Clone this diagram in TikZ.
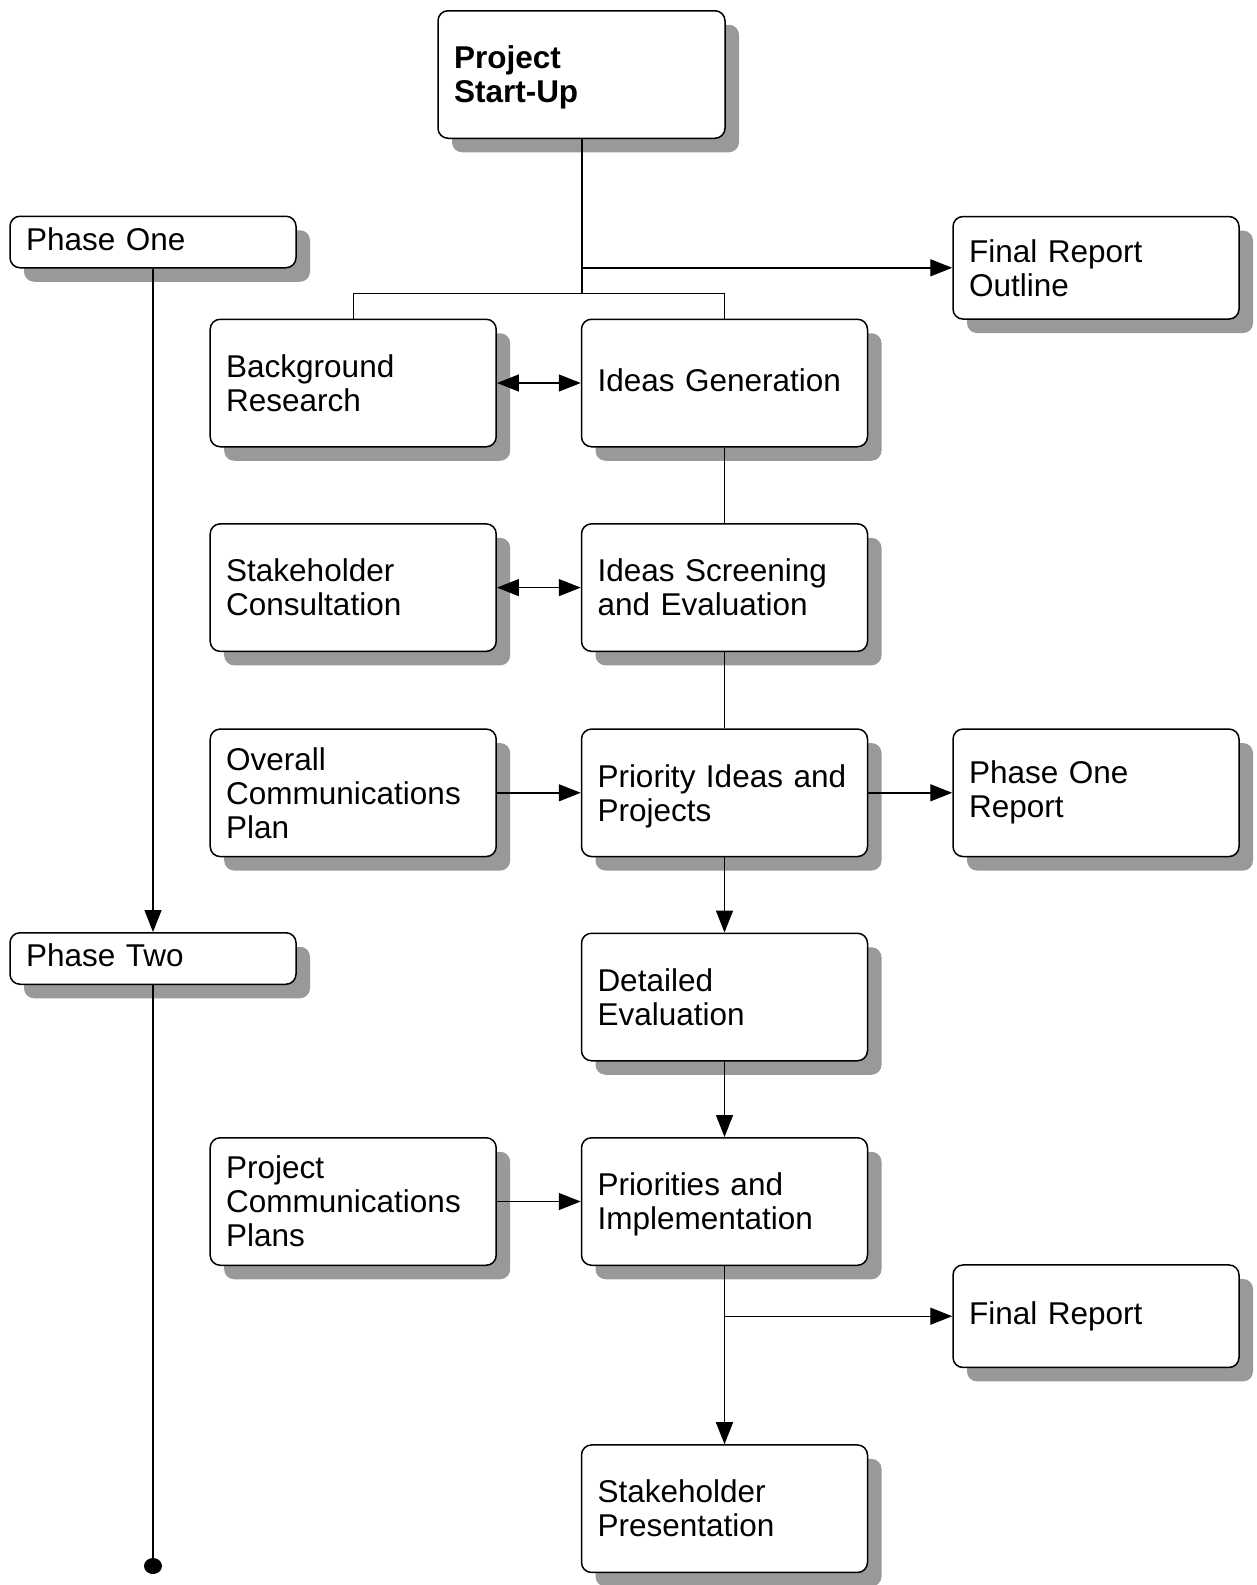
\documentclass[tikz,border=0pt]{standalone}
\usepackage{fontspec}
\setmainfont{Liberation Sans}
\usetikzlibrary{shadows,arrows.meta,shapes.geometric}
\begin{document}
\begin{tikzpicture}[x=1pt,y=-1pt,
  box/.style={draw, line width=1.5pt, fill=white, rounded corners=10pt,
    minimum width=286pt, minimum height=127.5pt, text width=254pt,
    inner xsep=16pt, inner ysep=0pt, align=left,
    font=\fontsize{31.5}{34}\selectfont,
    drop shadow={shadow xshift=14pt, shadow yshift=-14pt, fill=black!40, opacity=1}},
  oneline/.style={text depth=6.5pt},
  shortbox/.style={box, oneline, minimum height=51.5pt},
  midbox/.style={box, minimum height=102.5pt},
  conn/.style={line width=1.4pt},
  arr/.style={conn, -{Triangle[length=22pt,width=17pt]}},
  darr/.style={conn, {Triangle[length=22pt,width=17pt]}-{Triangle[length=22pt,width=17pt]}}
]
\useasboundingbox (0,0) rectangle (1257,1585);

\node[box, minimum width=287pt, text width=255pt, font=\fontsize{31.5}{34}\selectfont\bfseries] (start) at (581.5,74.5) {Project\\\smash{Start-Up}};
\node[shortbox] (p1) at (153,242) {Phase One};
\node[midbox] (fro) at (1096,267.8) {Final Report\\Outline};
\node[box] (bg) at (353.2,383) {Background\\Research};
\node[box, oneline] (ig) at (724.5,383) {Ideas Generation};
\node[box] (sc) at (353.2,587.6) {Stakeholder\\Consultation};
\node[box] (ise) at (724.5,587.6) {Ideas Screening\\and Evaluation};
\node[box] (ocp) at (353.2,792.8) {Overall\\Communications\\Plan};
\node[box] (pip) at (724.5,792.8) {Priority Ideas and\\\smash{Projects}};
\node[box] (por) at (1096,792.8) {Phase One\\Report};
\node[shortbox] (p2) at (153,958.5) {Phase Two};
\node[box] (de) at (724.5,997) {Detailed\\Evaluation};
\node[box] (pcp) at (353.2,1201.5) {Project\\Communications\\Plans};
\node[box] (pi) at (724.5,1201.5) {Priorities and\\\smash{Implementation}};
\node[midbox, oneline] (fr) at (1096,1316.2) {Final Report};
\node[box] (sp) at (724.5,1508.7) {Stakeholder\\Presentation};
\node[ellipse, fill=black, inner sep=0pt, minimum width=18pt, minimum height=16pt] (dot) at (153,1566) {};

\coordinate (br) at (582,293.3);
\draw[conn] (start.south -| br) -- (br);
\draw[conn] (bg.north) |- (br) -| (ig.north);
\draw[arr] (br |- fro.west) -- (fro.west);
\draw[darr] (bg.east) -- (ig.west);
\draw[conn] (ig.south) -- (ise.north);
\draw[darr] (sc.east) -- (ise.west);
\draw[conn] (ise.south) -- (pip.north);
\draw[arr] (ocp.east) -- (pip.west);
\draw[arr] (pip.east) -- (por.west);
\draw[arr] (pip.south) -- (de.north);
\draw[arr] (de.south) -- (pi.north);
\draw[arr] (pcp.east) -- (pi.west);
\draw[arr] (pi.south) -- (sp.north);
\draw[arr] (pi.south |- fr.west) -- (fr.west);
\draw[arr] (p1.south) -- (p2.north);
\draw[conn] (p2.south) -- (dot.center);
\end{tikzpicture}
\end{document}
